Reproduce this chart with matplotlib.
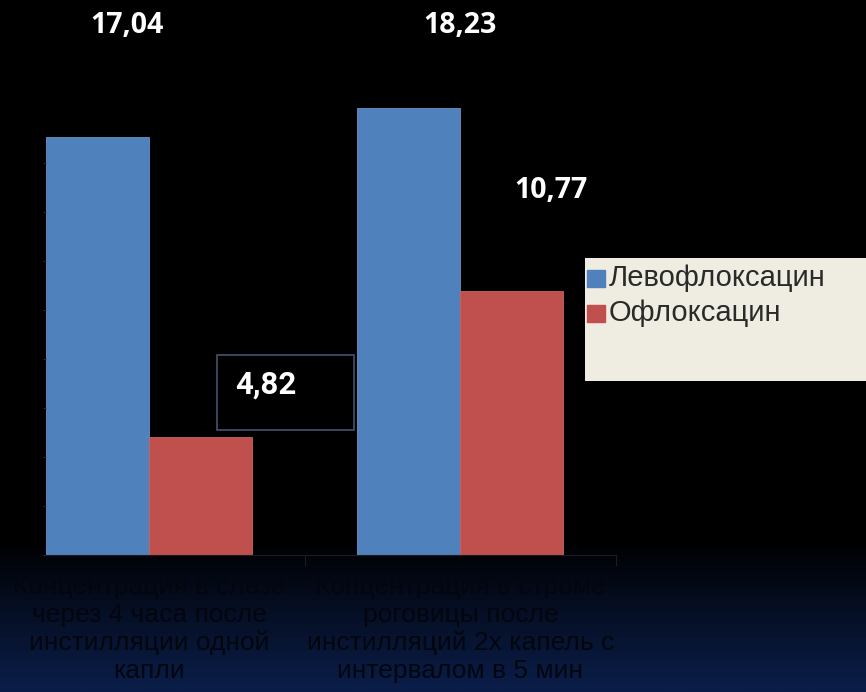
import numpy as np
import matplotlib.pyplot as plt
from matplotlib.colors import LinearSegmentedColormap
from matplotlib.patches import Rectangle

plt.rcParams['font.family'] = ['Liberation Sans', 'DejaVu Sans']

# Данные диаграммы
kategorii = ["Концентрация в слезе\nчерез 4 часа после\nинстилляции одной\nкапли",
             "Концентрация в строме\nроговицы после\nинстилляций 2х капель с\nинтервалом в 5 мин"]
serii = ["Левофлоксацин", "Офлоксацин"]
levo = [17.04, 18.23]
oflo = [4.82, 10.77]
culori = ["#4f81bd", "#c0504d"]

W, H = 866, 692
fig = plt.figure(figsize=(W / 100, H / 100), dpi=100)

# fundal: negru sus, trecere spre bleumarin jos
bg = fig.add_axes([0, 0, 1, 1], zorder=-10)
y = np.linspace(0, 1, 400)
grad = np.clip((y - 540 / H) / (1 - 540 / H), 0, 1)
cmap = LinearSegmentedColormap.from_list("fon", ["#000000", "#0b1e4a"])
bg.imshow(grad[:, None], aspect="auto", cmap=cmap, extent=[0, 1, 1, 0], vmin=0, vmax=1)
bg.set_axis_off()

# axa principala
baza = 555
scala = 24.53  # pixeli pe unitate
ax = fig.add_axes([46 / W, (H - baza) / H, 570 / W, 540 / H])
ax.set_facecolor("none")
ax.set_xlim(-0.331, 1.5)
ax.set_ylim(0, 540 / scala)

x = np.arange(len(kategorii))
lat = 0.331
ax.bar(x - lat / 2, levo, lat, color=culori[0], edgecolor="#6a93c8", linewidth=0.6)
ax.bar(x + lat / 2, oflo, lat, color=culori[1], edgecolor="#c86462", linewidth=0.6)

for s in ["top", "right", "left"]:
    ax.spines[s].set_visible(False)
ax.spines["bottom"].set_color("#1c1c22")
ax.set_yticks(np.arange(0, 18, 2))
ax.set_yticklabels([])
ax.tick_params(axis="y", length=2, color="#2a2a30")
ax.set_xticks([0.5, 1.5])
ax.set_xticklabels([])
ax.tick_params(axis="x", length=8, color="#1c1c22")

for i, k in enumerate(kategorii):
    ax.text(x[i], -0.82, k, ha="center", va="top", fontsize=19, color="#03060f",
            linespacing=1.2)

# etichete cu valori
def fmt(v):
    return f"{v:.2f}".replace(".", ",")

ax.text(x[0] - 0.07, 21.6, fmt(levo[0]), ha="center", va="center", color="white",
        fontsize=20.5, fontweight="bold", family="Open Sans")
ax.text(x[1], 21.6, fmt(levo[1]), ha="center", va="center", color="white",
        fontsize=20.5, fontweight="bold", family="Open Sans")
ax.text(x[1] + 0.29, 14.85, fmt(oflo[1]), ha="center", va="center", color="white",
        fontsize=20.5, fontweight="bold", family="Open Sans")
ax.text(x[0] + 0.376, 6.95, fmt(oflo[0]), ha="center", va="center", color="white",
        fontsize=22.5, fontweight="bold", family="Roboto")
ax.add_patch(Rectangle((0.217, (baza - 430) / scala), 137 / 311, 75 / scala,
                       fill=False, edgecolor="#4a5a78", linewidth=1.1))

# legenda
lg = fig.add_axes([585 / W, (H - 381) / H, 281 / W, 123 / H])
lg.set_facecolor("#efece2")
lg.set_xlim(0, 281)
lg.set_ylim(123, 0)
lg.set_xticks([])
lg.set_yticks([])
for s in lg.spines.values():
    s.set_visible(False)
for j, nume in enumerate(serii):
    cy = 20 + j * 35
    lg.add_patch(Rectangle((2, cy - 8), 18, 17, color=culori[j]))
    lg.text(24, cy, nume, va="center", ha="left", fontsize=21, color="#2a2a2a")

fig.savefig("out.png", dpi=100)
